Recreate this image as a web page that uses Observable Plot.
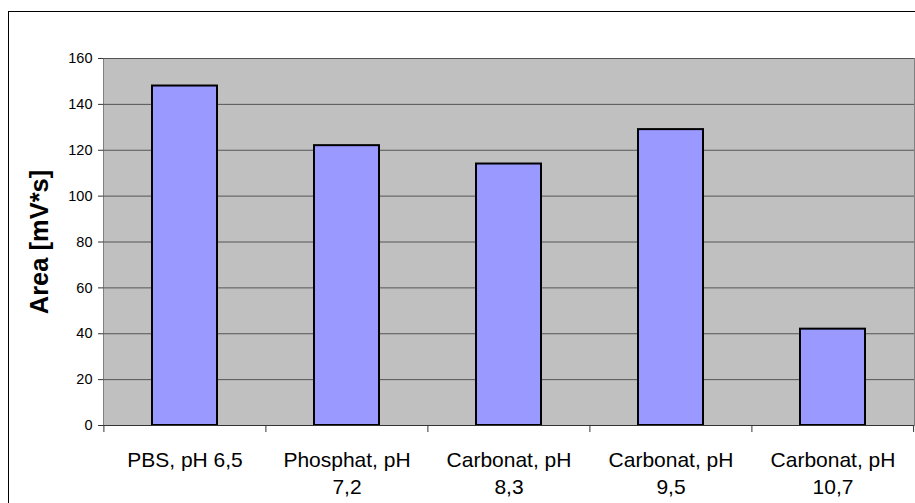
<!DOCTYPE html>
<html>
<head>
<meta charset="utf-8">
<script src="https://cdn.jsdelivr.net/npm/d3@7"></script>
<script src="https://cdn.jsdelivr.net/npm/@observablehq/plot@0.6"></script>
<style>
  html, body { margin: 0; padding: 0; background: #fff; }
  svg { display: block; }
</style>
</head>
<body>
<div id="chart"></div>
<script>
const categories = ["PBS, pH 6,5", "Phosphat, pH 7,2", "Carbonat, pH 8,3", "Carbonat, pH 9,5", "Carbonat, pH 10,7"];
const areaValues = [148, 122, 114, 129, 42];
const yTicks = [0, 20, 40, 60, 80, 100, 120, 140, 160];
const yLabel = "Area [mV*s]";

const data = categories.map((c, i) => ({category: c, value: areaValues[i]}));

const W = 915, H = 503;
const mLeft = 103, mRight = 1, mTop = 58, mBottom = 78;
const step = (W - mLeft - mRight) / categories.length;

const wrap = (s) => {
  // Excel-like wrapping: long labels break before the pH number
  const m = s.match(/^(.*, pH) (.+)$/);
  if (s.length > 12 && m) return m[1] + "\n" + m[2];
  return s;
};

const chart = Plot.plot({
  width: W,
  height: H,
  marginLeft: mLeft,
  marginRight: mRight,
  marginTop: mTop,
  marginBottom: mBottom,
  style: {fontFamily: "Arial, 'Liberation Sans', sans-serif", background: "#fff", overflow: "visible"},
  x: {domain: categories, paddingInner: 0.6, paddingOuter: 0.3, label: null},
  y: {domain: [0, 160], label: null},
  marks: [
    Plot.frame({fill: "#c0c0c0", stroke: "#808080", strokeWidth: 1}),
    Plot.gridY(yTicks.filter(d => d > 0), {stroke: "#555", strokeOpacity: 1, strokeWidth: 1}),
    Plot.barY(data, {x: "category", y: "value", fill: "#9999ff", stroke: "#000", strokeWidth: 2}),
    Plot.ruleY([0], {stroke: "#333", strokeWidth: 1}),
    Plot.ruleX([0], {frameAnchor: "left", stroke: "#333", strokeWidth: 1}),
    Plot.axisY({ticks: yTicks, tickSize: 5, tickPadding: 6, fontSize: 14.5, label: null, stroke: "#333", fill: "#000"}),
    Plot.axisX({tickSize: 0, tickPadding: 22, fontSize: 21, lineHeight: 1.3, tickFormat: wrap, label: null, fill: "#000"}),
    Plot.axisX({tickSize: 7, tickFormat: null, dx: -step / 2, label: null, stroke: "#333"}),
    Plot.axisX({ticks: [categories[categories.length - 1]], tickSize: 7, tickFormat: null, dx: step / 2 - 0.5, label: null, stroke: "#333"}),
    Plot.text([yLabel], {frameAnchor: "left", textAnchor: "middle", dx: -64, rotate: -90, fontSize: 25.5, fontWeight: "bold", fill: "#000", text: d => d})
  ]
});

const svg = d3.select(chart);
svg.append("rect")
  .attr("x", 8.5).attr("y", 11.5)
  .attr("width", 2000).attr("height", 2000)
  .attr("fill", "none").attr("stroke", "#000").attr("stroke-width", 1);

document.getElementById("chart").appendChild(chart);
</script>
</body>
</html>
